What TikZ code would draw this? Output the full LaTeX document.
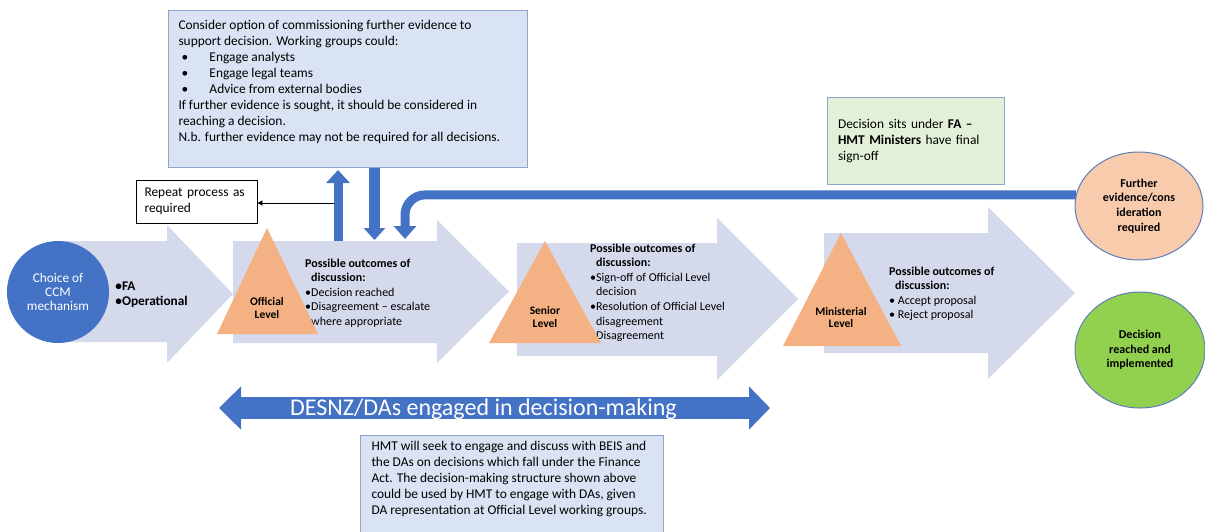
\documentclass[tikz,border=0pt]{standalone}
\usepackage{fontspec}
\setmainfont{Carlito}
\usepackage{tikz}
\usetikzlibrary{positioning}
\usetikzlibrary{shapes.geometric}
\usetikzlibrary{arrows.meta}

\definecolor{stagefill}{RGB}{212,217,236}
\definecolor{levelfill}{RGB}{244,177,131}
\definecolor{ccmblue}{RGB}{68,114,196}
\definecolor{boxfill}{RGB}{218,227,243}
\definecolor{boxline}{RGB}{143,165,205}
\definecolor{notefill}{RGB}{226,240,217}
\definecolor{furtherfill}{RGB}{248,203,173}
\definecolor{donefill}{RGB}{146,208,80}
\definecolor{ringline}{RGB}{95,125,185}

\begin{document}
\begin{tikzpicture}[x=1pt, y=-1pt,
	stagearrow/.style={fill=stagefill},
	lvltri/.style={fill=levelfill},
	lvltext/.style={font=\fontsize{11.5}{13}\selectfont\bfseries, align=center, inner sep=0},
	outcome/.style={font=\fontsize{12}{14.6}\selectfont, align=left, inner sep=0, anchor=north west},
	infobox/.style={draw=boxline, fill=boxfill, line width=1pt, font=\fontsize{13.4}{16}\selectfont},
	ring/.style={ellipse, draw=ringline, line width=1pt, inner sep=1pt, align=center, font=\fontsize{12}{14.7}\selectfont\bfseries},
	bluearrow/.style={draw=ccmblue, line width=#1}]
	\path[use as bounding box, clip] (0,0) rectangle (1205,531);

	\fill[stagearrow] (58,241) -- (167,241) -- (167,225) -- (233,294) -- (167,363) -- (167,342) -- (58,342) -- cycle;
	\fill[stagearrow] (233,241) -- (437,241) -- (437,220) -- (509,291.5) -- (437,363) -- (437,343) -- (233,343) -- cycle;
	\fill[stagearrow] (517,243) -- (717,243) -- (717,218) -- (798,299) -- (717,380) -- (717,356) -- (517,356) -- cycle;
	\fill[stagearrow] (824,233) -- (988,233) -- (988,207) -- (1075,293) -- (988,379) -- (988,353) -- (824,353) -- cycle;

	\node[circle, fill=ccmblue, minimum size=102pt, inner sep=0, text=white, font=\fontsize{13.3}{14}\selectfont, align=center] (ccm) at (58,292) {Choice of\\CCM\\mechanism};
	\node[font=\fontsize{13.3}{15}\selectfont\bfseries, align=left, inner sep=0, right=6pt of ccm, yshift=-2.5pt] (mech) {•FA\\•Operational};

	\node[outcome] (out_off) at (305,258.5) {\textbf{Possible outcomes of}\\\phantom{•}\textbf{discussion:}\\•Decision reached\\•Disagreement – escalate\\\phantom{•}where appropriate};
	\node[outcome] (out_sen) at (590,243.5) {\textbf{Possible outcomes of}\\\phantom{•}\textbf{discussion:}\\•Sign-off of Official Level\\\phantom{•}decision\\•Resolution of Official Level\\\phantom{•}disagreement\\•Disagreement};
	\node[outcome] (out_min) at (889,266.5) {\textbf{Possible outcomes of}\\\phantom{•}\textbf{discussion:}\\• Accept proposal\\• Reject proposal};

	\fill[lvltri] (267,228) -- (318,334) -- (217,334) -- cycle;
	\node[lvltext] (lvl_off) at (267,307.5) {Official\\Level};
	\fill[lvltri] (545,241) -- (601,343) -- (489,343) -- cycle;
	\node[lvltext] (lvl_sen) at (545,316.5) {Senior\\Level};
	\fill[lvltri] (841,233) -- (901,346) -- (783,346) -- cycle;
	\node[lvltext] (lvl_min) at (841,317.5) {Ministerial\\Level};

	\node[infobox, anchor=north west, inner xsep=10pt, inner ysep=10pt] (ev) at (168,10) {\begin{minipage}[t][137pt][t]{339pt}
		Consider option of commissioning further evidence to\\
		support decision. Working groups could:\\
		\hspace*{3pt}\makebox[28pt][l]{•}Engage analysts\\
		\hspace*{3pt}\makebox[28pt][l]{•}Engage legal teams\\
		\hspace*{3pt}\makebox[28pt][l]{•}Advice from external bodies\\
		If further evidence is sought, it should be considered in\\
		reaching a decision.\\
		N.b. further evidence may not be required for all decisions.
	\end{minipage}};

	\coordinate (up_bot) at (338,241);
	\coordinate (up_top) at (338,170);
	\coordinate (dn_end) at (374.5,240);
	\coordinate (crv_end) at (405,239);
	\coordinate (rpt_from) at (334,203);
	\draw[bluearrow=9pt, -{Triangle[width=23pt,length=13pt]}] (up_bot) -- (up_top);
	\draw[bluearrow=11pt, -{Triangle[width=21pt,length=12pt]}] (ev.south -| dn_end) -- (dn_end);

	\node[draw=black, fill=white, line width=0.8pt, minimum width=121pt, minimum height=43pt, text width=104pt, inner xsep=8.5pt, align=left, font=\fontsize{13.4}{16}\selectfont] (rpt) at (196.5,201.5) {Repeat process as\\required};
	\draw[line width=0.8pt, -{Triangle[width=5pt,length=5pt]}] (rpt_from) -- (rpt_from -| rpt.east);

	\node[infobox, fill=notefill, minimum width=177pt, minimum height=87pt, text width=155pt, inner xsep=11pt, align=left] (note) at (915.5,140.5) {Decision sits under \textbf{FA –}\\\textbf{HMT Ministers} have final\\sign-off};

	\node[ring, fill=furtherfill, minimum width=128pt, minimum height=108pt] (further) at (1139,206) {Further\\evidence/cons\\ideration\\required};
	\node[ring, fill=donefill, minimum width=130pt, minimum height=116pt] (done) at (1140,350) {Decision\\reached and\\implemented};
	\draw[bluearrow=9pt, rounded corners=20pt, -{Triangle[width=22pt,length=13pt]}] (further.170) -| (crv_end);

	\coordinate (das_l) at (219,408);
	\coordinate (das_r) at (770,408);
	\draw[bluearrow=22pt, {Triangle[width=42pt,length=22pt]}-{Triangle[width=42pt,length=21pt]}] (das_l) -- (das_r);
	\node[font=\fontsize{24}{28}\selectfont, text=white, anchor=base, inner sep=0] (das_txt) at (483.5,415) {DESNZ/DAs engaged in decision-making};

	\node[infobox, anchor=north west, inner xsep=11pt, inner ysep=6pt] (hmt) at (360,435) {\begin{minipage}[t][98pt][t]{281pt}
		HMT will seek to engage and discuss with BEIS and\\
		the DAs on decisions which fall under the Finance\\
		Act. The decision-making structure shown above\\
		could be used by HMT to engage with DAs, given\\
		DA representation at Official Level working groups.
	\end{minipage}};
\end{tikzpicture}
\end{document}
